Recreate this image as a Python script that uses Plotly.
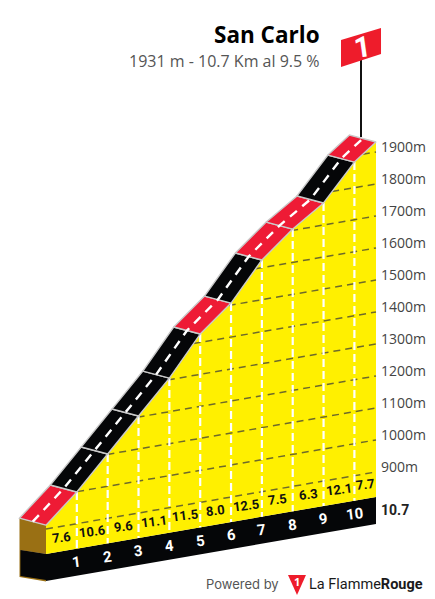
import plotly.graph_objects as go
import numpy as np

W, H = 435, 599
# Data
km = [0, 1, 2, 3, 4, 5, 6, 7, 8, 9, 10, 10.7]
elevation = [912, 999, 1101, 1203, 1305, 1426, 1506, 1624, 1704, 1769, 1880, 1931]
gradients = [7.6, 10.6, 9.6, 11.1, 11.5, 8.0, 12.5, 7.5, 6.3, 12.1, 7.7]
km_labels = ["1", "2", "3", "4", "5", "6", "7", "8", "9", "10"]
grid_levels = [900, 1000, 1100, 1200, 1300, 1400, 1500, 1600, 1700, 1800, 1900]
title = "San Carlo"
subtitle = "1931 m - 10.7 Km al 9.5 %"
total_label = "10.7"

# Oblique projection settings
PX_PER_KM = 30.84
M_PER_PX = 3.125
X0_PX = 46
Y900_PX = 529
SKEW = 5.33 * M_PER_PX       # metres of screen rise per km
BASE = 822                   # bottom of yellow face (m)
FOOT = 737.5                 # bottom of black band (m)
ROAD_DX = -26.5 / PX_PER_KM
ROAD_DY = 7 * M_PER_PX
RED, BLACK, YELLOW, BROWN = "#EE1B35", "#050608", "#FFF000", "#9A7014"
EDGE = "#C9C9C9"

km_a = np.array(km, float)
el_a = np.array(elevation, float)


def proj(k, e):
    return np.asarray(e, float) + SKEW * np.asarray(k, float)


def px(x):
    return x / W


def py(y):
    return 1 - y / H


fig = go.Figure()


def poly(xs, ys, fill, line=None, lw=0):
    fig.add_trace(go.Scatter(x=list(xs), y=list(ys), mode="lines", fill="toself", fillcolor=fill,
                             line=dict(color=line or fill, width=lw), hoverinfo="skip"))


# Black foot band
end = km[-1]
poly([0, end, end, 0], [proj(0, BASE), proj(end, BASE), proj(end, FOOT), proj(0, FOOT)], BLACK)

# Left face
lx = ROAD_DX
poly([lx, 0, 0, lx], [proj(0, el_a[0]) + ROAD_DY, proj(0, el_a[0]), proj(0, BASE), proj(0, BASE) + 4 * M_PER_PX], BROWN)
poly([lx, 0, 0, lx], [proj(0, BASE) + 4 * M_PER_PX, proj(0, BASE), proj(0, FOOT) - 1.5, proj(0, FOOT) + 4 * M_PER_PX], BROWN)
poly([lx + 0.03, 0, 0, lx + 0.03], [proj(0, BASE) + 4 * M_PER_PX, proj(0, BASE), proj(0, FOOT) + 3, proj(0, FOOT) + 4 * M_PER_PX + 3], BLACK)

# Yellow face
poly(list(km_a) + [end, 0], list(proj(km_a, el_a)) + [proj(end, BASE), proj(0, BASE)], YELLOW)

# Elevation grid lines, starting where each level meets the terrain
for lev in grid_levels:
    start = float(np.interp(lev, el_a, km_a))
    fig.add_trace(go.Scatter(x=[start, end], y=[proj(start, lev), proj(end, lev)], mode="lines",
                             line=dict(color="#6E6A2A", width=1.5, dash="7px,5px"), hoverinfo="skip"))

# Km verticals
for k, e in zip(km[1:-1], elevation[1:-1]):
    fig.add_trace(go.Scatter(x=[k, k], y=[proj(k, e), proj(k, BASE)], mode="lines",
                             line=dict(color="white", width=2.2, dash="8px,4px"), hoverinfo="skip"))

# Road segments
for i, g in enumerate(gradients):
    k0, k1, e0, e1 = km[i], km[i + 1], elevation[i], elevation[i + 1]
    poly([k0, k1, k1 + ROAD_DX, k0 + ROAD_DX, k0],
         [proj(k0, e0), proj(k1, e1), proj(k1, e1) + ROAD_DY, proj(k0, e0) + ROAD_DY, proj(k0, e0)],
         RED if g < 9 else BLACK, EDGE, 1.4)

# Road centre line
fig.add_trace(go.Scatter(x=km_a + ROAD_DX / 2, y=proj(km_a, el_a) + ROAD_DY / 2, mode="lines",
                         line=dict(color="white", width=2.4, dash="9px,7px"), hoverinfo="skip"))

ann = []
NARROW = "Roboto, sans-serif"
# Gradient labels
for i, g in enumerate(gradients):
    mid = (km[i] + km[i + 1]) / 2
    ann.append(dict(x=mid, y=float(proj(mid, BASE + 14 * M_PER_PX)), text=f"<b>{g:.1f}</b>", xref="x", yref="y",
                    showarrow=False, textangle=-7, font=dict(family=NARROW, size=13, color="#111")))
# Km labels
for k, t in zip(km[1:-1], km_labels):
    ann.append(dict(x=k, y=float(proj(k, BASE - 13.5 * M_PER_PX)), text=f"<b>{t}</b>", xref="x", yref="y",
                    showarrow=False, textangle=-7, font=dict(family=NARROW, size=15, color="white")))
# Elevation labels
for lev in grid_levels:
    ann.append(dict(x=end, y=float(proj(end, lev)), text=f"{lev}m", xref="x", yref="y", xanchor="left", yanchor="middle",
                    xshift=3, yshift=5, showarrow=False, font=dict(family="Open Sans", size=14, color="#444")))
ann.append(dict(x=end, y=float(proj(end, BASE)), text=f"<b>{total_label}</b>", xref="x", yref="y", xanchor="left",
                xshift=3, yshift=-13, yanchor="middle", showarrow=False, font=dict(family=NARROW, size=14, color="#222")))


def pap(x, y, text, anchor, size, color, family="Open Sans", angle=0):
    ann.append(dict(x=px(x), y=py(y), text=text, xref="paper", yref="paper", xanchor=anchor, yanchor="middle",
                    showarrow=False, textangle=angle, font=dict(family=family, size=size, color=color)))


pap(322, 35, f"<b>{title}</b>", "right", 22.5, "#000")
pap(322, 61, subtitle, "right", 16, "#555")
pap(362, 47, "<b>1</b>", "center", 29, "white", "Roboto", -8)
pap(204, 584, "Powered by", "left", 13, "#555", "Inter")
pap(307, 584, "La Flamme<b>Rouge</b>", "left", 14.5, "#1a1a1a", "Roboto")
pap(297, 581, "<b>1</b>", "center", 11, "white", "Open Sans")


def path(pts):
    return "M" + " L".join(f"{px(x):.4f},{py(y):.4f}" for x, y in pts) + " Z"


shapes = [
    dict(type="line", xref="paper", yref="paper", x0=px(361), x1=px(361), y0=py(60), y1=py(137),
         line=dict(color="#111", width=2), layer="below"),
    dict(type="path", xref="paper", yref="paper", path=path([(341, 40), (381, 28), (381, 54), (341, 67)]),
         fillcolor="#EE1C2B", line=dict(width=0), layer="below"),
    dict(type="path", xref="paper", yref="paper", path=path([(288, 575), (306, 575), (297, 595)]),
         fillcolor="#EE1C2B", line=dict(width=0), layer="below"),
]

y_top = 900 + Y900_PX * M_PER_PX
y_bot = 900 - (H - Y900_PX) * M_PER_PX
fig.update_layout(
    width=W, height=H, margin=dict(l=0, r=0, t=0, b=0), autosize=False, showlegend=False,
    paper_bgcolor="white", plot_bgcolor="white", annotations=ann, shapes=shapes,
    xaxis=dict(visible=False, range=[-X0_PX / PX_PER_KM, (W - X0_PX) / PX_PER_KM], fixedrange=True),
    yaxis=dict(visible=False, range=[y_bot, y_top], fixedrange=True),
)
fig.write_html("out.html", config=dict(displayModeBar=False),
               post_script="document.body.style.margin='0';document.body.style.overflow='hidden';")
